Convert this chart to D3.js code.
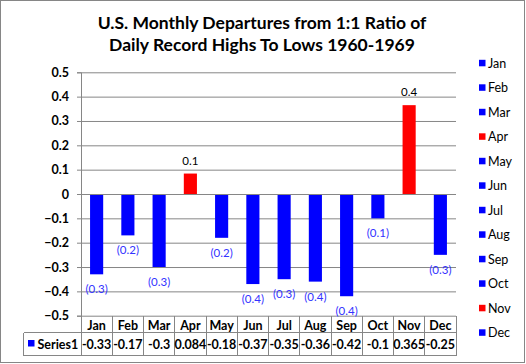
<!DOCTYPE html>
<html>
<head>
<meta charset="utf-8">
<script src="https://cdn.jsdelivr.net/npm/d3@7"></script>
<style>
  body { margin: 0; background: #fff; }
  text { font-family: Lato, "Open Sans", sans-serif; }
</style>
</head>
<body>
<div id="chart"></div>
<script>
const months = ["Jan", "Feb", "Mar", "Apr", "May", "Jun", "Jul", "Aug", "Sep", "Oct", "Nov", "Dec"];
const values = [-0.33, -0.17, -0.3, 0.084, -0.18, -0.37, -0.35, -0.36, -0.42, -0.1, 0.365, -0.25];
const tableLabels = ["-0.33", "-0.17", "-0.3", "0.084", "-0.18", "-0.37", "-0.35", "-0.36", "-0.42", "-0.1", "0.365", "-0.25"];
const barLabels = ["(0.3)", "(0.2)", "(0.3)", "0.1", "(0.2)", "(0.4)", "(0.3)", "(0.4)", "(0.4)", "(0.1)", "0.4", "(0.3)"];
const yTicks = [0.5, 0.4, 0.3, 0.2, 0.1, 0, -0.1, -0.2, -0.3, -0.4, -0.5];
const titleLines = ["U.S. Monthly Departures from 1:1 Ratio of", "Daily Record Highs To Lows 1960-1969"];

const width = 526, height = 364;
const plot = { left: 81, right: 456, top: 72.3, bottom: 315.7 };
const gray = "#868686";
const colorOf = v => v >= 0 ? "#ff0000" : "#0000ff";

const svg = d3.select("#chart").append("svg")
    .attr("width", width)
    .attr("height", height);

// outer frame
svg.append("rect")
    .attr("x", 0.5).attr("y", 0.5)
    .attr("width", 524).attr("height", 362)
    .attr("fill", "#fff")
    .attr("stroke", gray);

// title
svg.append("g").selectAll("text")
    .data(titleLines)
    .enter()
    .append("text")
    .attr("x", 262)
    .attr("y", (d, i) => 29 + i * 22)
    .attr("text-anchor", "middle")
    .style("font-size", "17.5px")
    .style("font-weight", "bold")
    .text(d => d);

const x = d3.scaleBand()
    .domain(months)
    .range([plot.left, plot.right])
    .paddingInner(0.58)
    .paddingOuter(0.29);

const y = d3.scaleLinear()
    .domain([-0.5, 0.5])
    .range([plot.bottom, plot.top]);

// gridlines
svg.append("g")
    .attr("transform", `translate(${plot.left},0)`)
    .call(d3.axisLeft(y).tickValues(yTicks).tickSize(-(plot.right - plot.left)).tickFormat(""))
    .call(g => g.select(".domain").remove())
    .call(g => g.selectAll("line").attr("stroke", gray));

// y axis
svg.append("g")
    .attr("transform", `translate(${plot.left},0)`)
    .call(d3.axisLeft(y).tickValues(yTicks).tickSize(4).tickPadding(8).tickFormat(d3.format("")))
    .call(g => g.select(".domain").attr("stroke", gray))
    .call(g => g.selectAll("line").attr("stroke", gray))
    .call(g => g.selectAll("text")
        .style("font-size", "12.5px")
        .style("font-weight", "bold")
        .attr("fill", "#000"));

// bars
svg.append("g").selectAll("rect")
    .data(values)
    .enter()
    .append("rect")
    .attr("x", (d, i) => x(months[i]))
    .attr("width", x.bandwidth())
    .attr("y", d => d >= 0 ? y(d) : y(0) + 1)
    .attr("height", d => Math.abs(y(d) - y(0)) - (d >= 0 ? 0 : 1))
    .attr("fill", d => colorOf(d));

// bar labels
svg.append("g").selectAll("text")
    .data(values)
    .enter()
    .append("text")
    .attr("x", (d, i) => x(months[i]) + x.bandwidth() / 2)
    .attr("y", d => d >= 0 ? y(d) - 9 : y(d) + 19)
    .attr("text-anchor", "middle")
    .style("font-size", "11.5px")
    .attr("fill", d => d >= 0 ? "#000" : "#3333ff")
    .text((d, i) => barLabels[i]);

// data table
const rowTop = plot.bottom, rowMid = 332.5, rowBot = 355.5, tableLeft = 23.5;
const colEdges = d3.range(13).map(i => plot.left + i * x.step());
const table = svg.append("g").attr("stroke", gray).attr("shape-rendering", "crispEdges");
colEdges.forEach(cx => {
    table.append("line").attr("x1", cx).attr("x2", cx).attr("y1", rowTop).attr("y2", rowBot);
});
table.append("line").attr("x1", tableLeft).attr("x2", plot.right).attr("y1", rowMid).attr("y2", rowMid);
table.append("line").attr("x1", tableLeft).attr("x2", plot.right).attr("y1", rowBot).attr("y2", rowBot);
table.append("line").attr("x1", tableLeft).attr("x2", tableLeft).attr("y1", rowMid).attr("y2", rowBot);

svg.append("g").selectAll("text")
    .data(months)
    .enter()
    .append("text")
    .attr("x", d => x(d) + x.bandwidth() / 2)
    .attr("y", 329.5)
    .attr("text-anchor", "middle")
    .style("font-size", "12.5px")
    .style("font-weight", "bold")
    .text(d => d);

svg.append("g").selectAll("text")
    .data(tableLabels)
    .enter()
    .append("text")
    .attr("x", (d, i) => x(months[i]) + x.bandwidth() / 2)
    .attr("y", 348.5)
    .attr("text-anchor", "middle")
    .style("font-size", "12.5px")
    .style("font-weight", "bold")
    .text(d => d);

svg.append("rect")
    .attr("x", 28).attr("y", 340)
    .attr("width", 6.5).attr("height", 6.5)
    .attr("fill", "#0000ff");
svg.append("text")
    .attr("x", 37.5).attr("y", 348.5)
    .style("font-size", "12.5px")
    .style("font-weight", "bold")
    .text("Series1");

// legend
const legend = svg.append("g").selectAll("g")
    .data(months)
    .enter()
    .append("g")
    .attr("transform", (d, i) => `translate(479,${63.3 + i * 24.5})`);
legend.append("rect")
    .attr("x", 0).attr("y", -3.5)
    .attr("width", 6.5).attr("height", 6.5)
    .attr("fill", (d, i) => colorOf(values[i]));
legend.append("text")
    .attr("x", 9)
    .attr("y", 4.5)
    .style("font-size", "12.5px")
    .text(d => d);
</script>
</body>
</html>
